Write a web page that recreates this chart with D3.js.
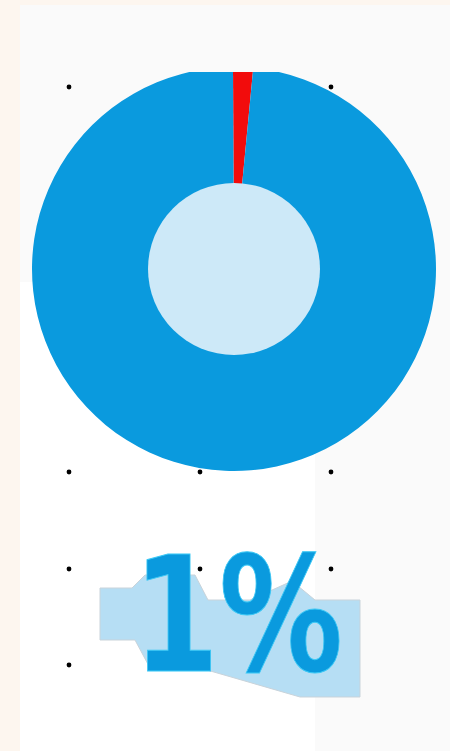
<!DOCTYPE html>
<html>
<head>
<meta charset="utf-8">
<script src="https://cdn.jsdelivr.net/npm/d3@7"></script>
<style>
  body { margin: 0; background: #fdf6ef; }
  svg { display: block; }
</style>
</head>
<body>
<div id="chart"></div>
<script>
// share shown in the donut: red sliver vs the rest
const labels = ["share", "rest"];
const values = [1.6, 98.4];
const colors = ["#f20c0c", "#0a9ade"];
const bigLabel = "1%";

// little black grid dots sitting behind everything
const dotCols = [69, 200, 331];
const dotRows = [87, 183, 280, 376, 472, 569, 665];

const width = 450,
  height = 751;

const svg = d3.select("#chart")
  .append("svg")
  .attr("width", width)
  .attr("height", height)
  .attr("viewBox", [0, 0, width, height]);

// panel backgrounds
svg.append("rect").attr("x", 20).attr("y", 5).attr("width", width - 20).attr("height", height - 5).attr("fill", "#fafafa");
svg.append("rect").attr("x", 20).attr("y", 282).attr("width", 295).attr("height", height - 282).attr("fill", "#ffffff");

svg.append("g")
  .selectAll("circle")
  .data(d3.cross(dotCols, dotRows))
  .join("circle")
  .attr("cx", d => d[0])
  .attr("cy", d => d[1])
  .attr("r", 2.4)
  .attr("fill", "#000");

// donut
const cx = 234, cy = 269, outerR = 202, innerR = 86;

const pie = d3.pie().sort(null).startAngle(-0.005).endAngle(2 * Math.PI - 0.005);
const arc = d3.arc().innerRadius(0).outerRadius(outerR);

svg.append("clipPath")
  .attr("id", "topcut")
  .append("rect")
  .attr("x", 0).attr("y", 72).attr("width", width).attr("height", height);

const donut = svg.append("g")
  .attr("clip-path", "url(#topcut)")
  .append("g")
  .attr("transform", `translate(${cx},${cy})`);

donut.selectAll("path")
  .data(pie(values))
  .join("path")
  .attr("d", arc)
  .attr("fill", (d, i) => colors[i]);

donut.append("circle")
  .attr("r", innerR)
  .attr("fill", "#cde9f8");

// ribbon behind the big number
const ribbon = [[100,588],[132,588],[145,575],[195,575],[208,600],[250,600],[292,581],[315,600],[360,600],
  [360,697],[300,697],[200,668],[150,668],[135,640],[100,640]];
svg.append("path")
  .attr("d", d3.line()(ribbon) + "Z")
  .attr("fill", "#b6def4")
  .attr("stroke", "#c9d3da")
  .attr("stroke-width", 1);

svg.append("text")
  .attr("x", 238)
  .attr("y", 671)
  .attr("text-anchor", "middle")
  .attr("font-family", "'DejaVu Sans', sans-serif")
  .attr("font-weight", "bold")
  .attr("font-size", 160)
  .attr("textLength", 210)
  .attr("lengthAdjust", "spacingAndGlyphs")
  .attr("fill", "#0a9ade")
  .attr("stroke", "#3cc8f5")
  .attr("stroke-width", 1)
  .text(bigLabel);
</script>
</body>
</html>
